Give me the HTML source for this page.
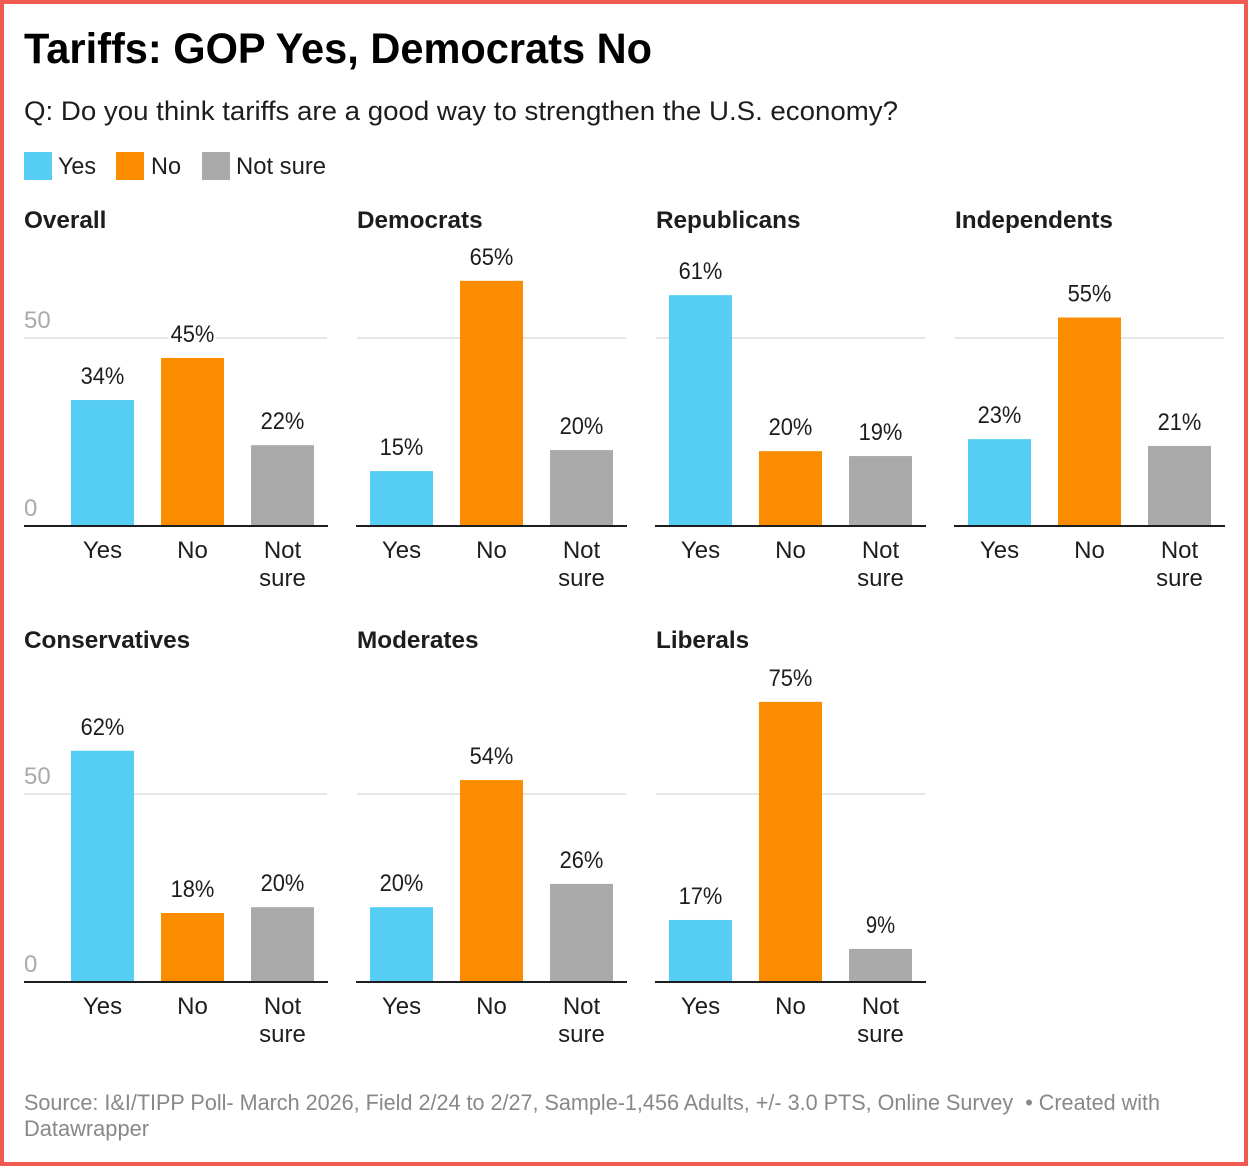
<!DOCTYPE html>
<html lang="en">
<head>
<meta charset="utf-8">
<title>Tariffs: GOP Yes, Democrats No</title>
<style>
html,body{margin:0;padding:0;background:#fff}
svg{display:block}
text{font-family:"Liberation Sans",sans-serif}
.cat,.val{font-size:24px;fill:#1d1d1d;text-anchor:middle}
.val{stroke:#fff;stroke-width:5px;paint-order:stroke;stroke-linejoin:round}
.tick{font-size:24px;fill:#aaaaaa}
.ptitle{font-size:24.3px;font-weight:bold;fill:#1d1d1d}
.leg{font-size:24px;fill:#1d1d1d}
.foot{font-size:22px;fill:#888888}
</style>
</head>
<body>
<svg id="chart" xmlns="http://www.w3.org/2000/svg" width="1248" height="1166" viewBox="0 0 1248 1166">
  <rect x="2" y="2" width="1244" height="1162" fill="#fff" stroke="#ef5b50" stroke-width="4"/>
  <text x="24" y="63" font-size="43" font-weight="bold" fill="#000" textLength="628" lengthAdjust="spacingAndGlyphs">Tariffs: GOP Yes, Democrats No</text>
  <text x="24" y="120" font-size="27" fill="#1d1d1d" textLength="874" lengthAdjust="spacingAndGlyphs">Q: Do you think tariffs are a good way to strengthen the U.S. economy?</text>
  <g>
    <rect x="24" y="152" width="28" height="28" fill="#56cdf5"/>
    <text class="leg" x="58" y="174" textLength="38" lengthAdjust="spacingAndGlyphs">Yes</text>
    <rect x="116" y="152" width="28" height="28" fill="#fb8c00"/>
    <text class="leg" x="151" y="174" textLength="30" lengthAdjust="spacingAndGlyphs">No</text>
    <rect x="202" y="152" width="28" height="28" fill="#aaaaaa"/>
    <text class="leg" x="236" y="174" textLength="90" lengthAdjust="spacingAndGlyphs">Not sure</text>
  </g>
  <g id="panels"></g>
  <text class="foot" x="24" y="1110" textLength="1136" lengthAdjust="spacingAndGlyphs">Source: I&amp;I/TIPP Poll- March 2026, Field 2/24 to 2/27, Sample-1,456 Adults, +/- 3.0 PTS, Online Survey &#160;• Created with</text>
  <text class="foot" x="24" y="1136" textLength="125" lengthAdjust="spacingAndGlyphs">Datawrapper</text>
</svg>
<script>
var panelNames = ["Overall", "Democrats", "Republicans", "Independents", "Conservatives", "Moderates", "Liberals"];
var overallValues = [33.5, 44.7, 21.5];
var democratsValues = [14.6, 65.2, 20.2];
var republicansValues = [61.4, 19.9, 18.6];
var independentsValues = [23.1, 55.45, 21.3];
var conservativesValues = [61.5, 18.35, 19.9];
var moderatesValues = [19.9, 53.7, 26.1];
var liberalsValues = [16.5, 74.5, 8.8];
var categories = ["Yes", "No", "Not sure"];
var yTicks = [0, 50];

var seriesByPanel = [overallValues, democratsValues, republicansValues, independentsValues, conservativesValues, moderatesValues, liberalsValues];
var NS = "http://www.w3.org/2000/svg";
var root = document.getElementById("panels");
var barColors = ["#56cdf5", "#fb8c00", "#aaaaaa"];
var UNIT = 3.76;

function make(tag, attrs, parent, txt) {
  var el = document.createElementNS(NS, tag);
  for (var k in attrs) { el.setAttribute(k, attrs[k]); }
  if (txt !== undefined) { el.textContent = txt; }
  parent.appendChild(el);
  return el;
}
function slug(s) { return s.toLowerCase().replace(/\s+/g, "-"); }
function panelLeft(col) { return col === 0 ? 24 : 357 + (col - 1) * 299; }
function panelRight(col) { return col === 0 ? 327 : panelLeft(col) + 269; }
function barLeft(col, i) { return (col === 0 ? 71 : panelLeft(col) + 13) + i * 90; }
function yScale(row, v) { return (row === 0 ? 526 : 982) - v * UNIT; }

panelNames.forEach(function (name, p) {
  var col = p % 4;
  var row = p < 4 ? 0 : 1;
  var base = yScale(row, 0);
  var left = panelLeft(col);
  var right = panelRight(col);
  var values = seriesByPanel[p];

  var g = make("g", {}, root);
  
  

  var title = make("text", { "class": "ptitle", x: left, y: row === 0 ? 228 : 648 }, g, name);
  
  

  var grid = make("line", { x1: left, x2: right, y1: yScale(row, 50), y2: yScale(row, 50), stroke: "#e6e6e6", "stroke-width": 2 }, g);
  
  

  if (col === 0) {
    yTicks.forEach(function (t) {
      var tick = make("text", { "class": "tick", x: 24, y: yScale(row, t) - 10 }, g, String(t));
      
      
    });
  }

  values.forEach(function (v, i) {
    var top = yScale(row, v);
    var bx = barLeft(col, i);
    var bar = make("rect", { x: bx, y: top, width: 63, height: base - top, fill: barColors[i] }, g);
    
    

    var label = Math.round(v) + "%";
    var val = make("text", { "class": "val", x: bx + 31.5, y: top - 16, textLength: label.length * 14.6, lengthAdjust: "spacingAndGlyphs" }, g, label);
    
    

    categories[i].split(" ").forEach(function (word, w) {
      var cat = make("text", { "class": "cat", x: bx + 31.5, y: base + 32 + w * 28 }, g, word);
      
      
    });
  });

  var axis = make("line", { x1: left - (col === 0 ? 0 : 1), x2: right + 1, y1: base, y2: base, stroke: "#1d1d1d", "stroke-width": 2 }, g);
  
  
});
</script>
</body>
</html>
